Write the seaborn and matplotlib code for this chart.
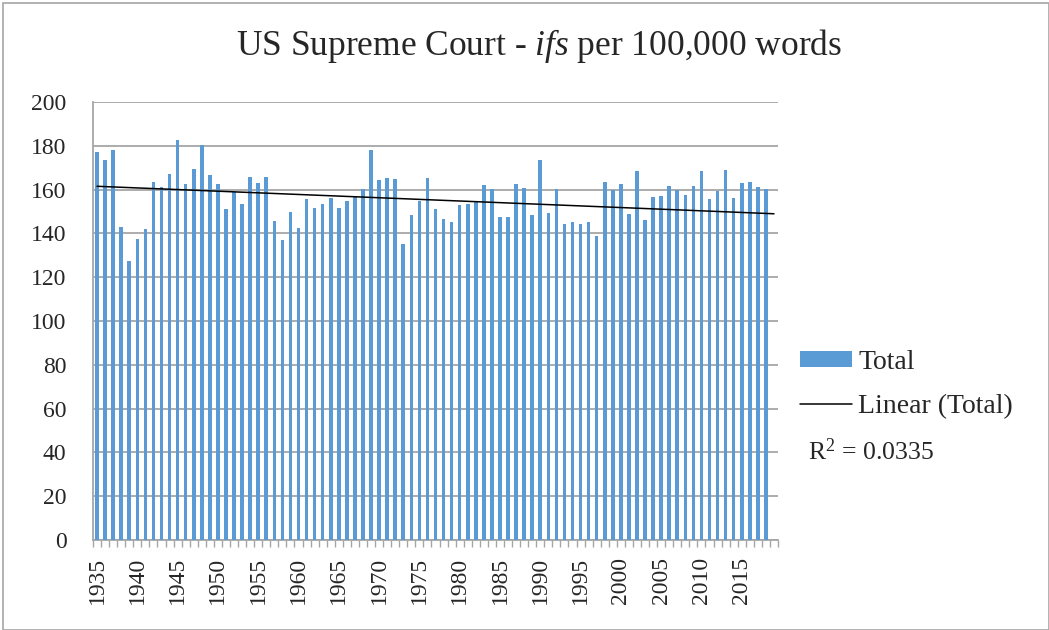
import numpy as np
import pandas as pd
import matplotlib
matplotlib.use("Agg")
import matplotlib.pyplot as plt
import seaborn as sns
from matplotlib.lines import Line2D
from matplotlib.patches import Patch, Rectangle

years = list(range(1935, 2020))
totals = [177.1, 173.6, 178.0, 142.7, 127.4, 137.4, 142.0, 163.5, 161.0, 167.0,
          182.7, 162.5, 169.5, 180.4, 166.8, 162.4, 151.0, 159.1, 153.5, 165.7,
          162.9, 165.9, 145.6, 136.8, 149.7, 142.4, 155.6, 151.5, 153.2, 156.2,
          151.8, 154.7, 156.6, 160.4, 178.0, 164.4, 165.5, 165.0, 135.1, 148.3,
          154.7, 165.1, 151.2, 146.8, 145.3, 152.9, 153.3, 154.2, 162.0, 160.4,
          147.3, 147.6, 162.4, 160.9, 148.3, 173.3, 149.5, 160.4, 144.2, 145.0,
          144.1, 145.0, 138.9, 163.3, 159.7, 162.4, 148.9, 168.3, 145.9, 156.4,
          157.1, 161.8, 160.0, 157.4, 161.6, 168.6, 155.7, 159.5, 168.8, 156.2,
          163.2, 163.3, 161.2, 160.4, 0.0]
yticks = list(range(0, 201, 20))
label_years = list(range(1935, 2019, 5))
legend_labels = ["Total", "Linear (Total)"]
r2_label = "0.0335"

sns.set_theme(style="white")
plt.rcParams['font.family'] = ['Liberation Serif', 'DejaVu Serif']
plt.rcParams['mathtext.fontset'] = 'custom'
plt.rcParams['mathtext.rm'] = 'Liberation Serif'
plt.rcParams['mathtext.it'] = 'Liberation Serif:italic'

df = pd.DataFrame({"year": [str(y) for y in years], "total": totals})

fig = plt.figure(figsize=(10.49, 6.30), dpi=100)
ax = fig.add_axes([93/1049, 1-540/630, (778-93)/1049, (540-102)/630])

bar_color = "#5B9BD5"
sns.barplot(data=df, x="year", y="total", color=bar_color, width=0.45,
            saturation=1, edgecolor="none", linewidth=0, ax=ax, zorder=3)

# linear trend (Excel-style, over all categories)
xi = np.arange(len(years))
coef = np.polyfit(xi, totals, 1)
xs = np.array([0, len(years) - 1])
ax.plot(xs, np.polyval(coef, xs), color="black", lw=1.1, zorder=4)

ax.set_xlim(-0.5, len(years) - 0.5)
ax.set_ylim(0, 200)
ax.set_yticks(yticks)
ax.set_yticklabels([str(v) for v in yticks], fontsize=17)
ax.yaxis.grid(True, color="#A6A6A6", lw=1.3)
ax.set_axisbelow(True)

pos = [years.index(y) for y in label_years]
ax.set_xticks(pos)
ax.set_xticklabels([str(y) for y in label_years], rotation=90, fontsize=17)
ax.set_xticks(np.arange(len(years) + 1) - 0.5, minor=True)
ax.tick_params(axis="x", which="minor", bottom=True, length=5, color="#A6A6A6", width=1)
ax.tick_params(axis="x", which="major", bottom=False, pad=6)
ax.tick_params(axis="y", which="both", left=False, pad=13)
ax.set_xlabel("")
ax.set_ylabel("")
for s in ["top", "right"]:
    ax.spines[s].set_visible(False)
for s in ["left", "bottom"]:
    ax.spines[s].set_color("#A6A6A6")
    ax.spines[s].set_linewidth(1.3)

fig.text(539/1049, 1-46/630, r"US Supreme Court - $\mathit{ifs}$ per 100,000 words",
         ha="center", va="center", fontsize=25.5)

handles = [Patch(facecolor=bar_color, edgecolor="none"),
           Line2D([0], [0], color="black", lw=1.1)]
fig.legend(handles, legend_labels, loc="upper left",
           bbox_to_anchor=(800/1049, 1-350/630), frameon=False, fontsize=20,
           borderpad=0, borderaxespad=0,
           handlelength=1.87, handleheight=0.5, handletextpad=0.22, labelspacing=0.68)
fig.text(808/1049, 1-452/630, r"R$^2$ = " + r2_label, ha="left", va="center", fontsize=18.5)

fig.patches.append(Rectangle((3/1049, 0), 1 - 3/1049, 1 - 3/630, transform=fig.transFigure,
                             fill=False, edgecolor="#A6A6A6", lw=1.2))

fig.savefig("out.png", dpi=100)
